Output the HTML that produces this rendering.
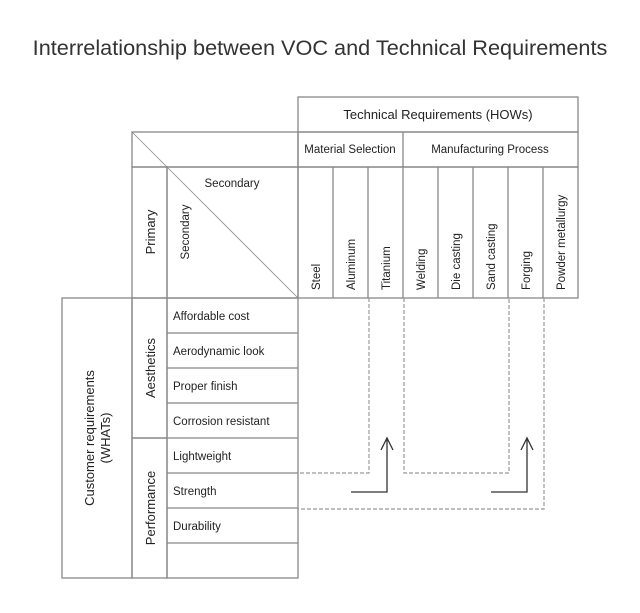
<!DOCTYPE html>
<html><head><style>body{margin:0;background:#fff}svg{display:block}</style></head><body>
<svg width="640" height="613" xmlns="http://www.w3.org/2000/svg" font-family="Liberation Sans, sans-serif" fill="#222">
<text x="320" y="55" font-size="21.7" text-anchor="middle" fill="#333">Interrelationship between VOC and Technical Requirements</text>
<g stroke="#888" stroke-width="1.3" fill="none">
<rect x="298" y="97" width="280" height="35"/>
<rect x="298" y="132" width="280" height="35"/>
<line x1="403" y1="132" x2="403" y2="167"/>
<rect x="132" y="132" width="166" height="35"/>
<rect x="132" y="167" width="35" height="131"/>
<rect x="167" y="167" width="131" height="131"/>
<rect x="298" y="167" width="280" height="131"/>
<line x1="333" y1="167" x2="333" y2="298"/><line x1="368" y1="167" x2="368" y2="298"/>
<line x1="403" y1="167" x2="403" y2="298"/><line x1="438" y1="167" x2="438" y2="298"/>
<line x1="473" y1="167" x2="473" y2="298"/><line x1="508" y1="167" x2="508" y2="298"/>
<line x1="543" y1="167" x2="543" y2="298"/>
<rect x="62" y="298" width="70" height="280"/>
<rect x="132" y="298" width="35" height="140"/>
<rect x="132" y="438" width="35" height="140"/>
<rect x="167" y="298" width="131" height="280"/>
<line x1="167" y1="333" x2="298" y2="333"/><line x1="167" y1="368" x2="298" y2="368"/>
<line x1="167" y1="403" x2="298" y2="403"/><line x1="167" y1="438" x2="298" y2="438"/>
<line x1="167" y1="473" x2="298" y2="473"/><line x1="167" y1="508" x2="298" y2="508"/>
<line x1="167" y1="543" x2="298" y2="543"/>
<line x1="132" y1="132" x2="167" y2="167" stroke-width="0.8"/>
<line x1="167" y1="167" x2="298" y2="298" stroke-width="0.8"/>
</g>
<g stroke="#999" stroke-width="1.2" fill="none" stroke-dasharray="4,2">
<polyline points="369,298 369,473 298,473"/>
<polyline points="404,298 404,473 509,473 509,298"/>
<polyline points="544,298 544,509 298,509"/>
</g>
<g stroke="#333" stroke-width="1.3" fill="none">
<polyline points="351,492 387,492 387,438"/><polyline points="381,450 387,438 393,450"/>
<polyline points="491,492 527,492 527,438"/><polyline points="521,450 527,438 533,450"/>
</g>
<g font-size="13">
<text x="438" y="119" text-anchor="middle">Technical Requirements (HOWs)</text>
</g>
<g font-size="11.5">
<text x="350" y="153" text-anchor="middle">Material Selection</text>
<text x="490" y="153" text-anchor="middle">Manufacturing Process</text>
<text x="232" y="187" text-anchor="middle">Secondary</text>
<text x="173" y="320">Affordable cost</text>
<text x="173" y="355">Aerodynamic look</text>
<text x="173" y="390">Proper finish</text>
<text x="173" y="425">Corrosion resistant</text>
<text x="173" y="460">Lightweight</text>
<text x="173" y="495">Strength</text>
<text x="173" y="530">Durability</text>
<g transform="rotate(-90)">
<text x="-290" y="320">Steel</text>
<text x="-290" y="355">Aluminum</text>
<text x="-290" y="390">Titanium</text>
<text x="-290" y="425">Welding</text>
<text x="-290" y="460">Die casting</text>
<text x="-290" y="495">Sand casting</text>
<text x="-290" y="530">Forging</text>
<text x="-290" y="565">Powder metallurgy</text>
<text x="-232" y="189" text-anchor="middle">Secondary</text>
<text x="-232" y="155" text-anchor="middle" font-size="13">Primary</text>
<text x="-368" y="155" text-anchor="middle" font-size="13">Aesthetics</text>
<text x="-508" y="155" text-anchor="middle" font-size="13">Performance</text>
<text x="-438" y="94" text-anchor="middle" font-size="13">Customer requirements</text>
<text x="-438" y="110" text-anchor="middle" font-size="13">(WHATs)</text>
</g>
</g>
</svg>
</body></html>
